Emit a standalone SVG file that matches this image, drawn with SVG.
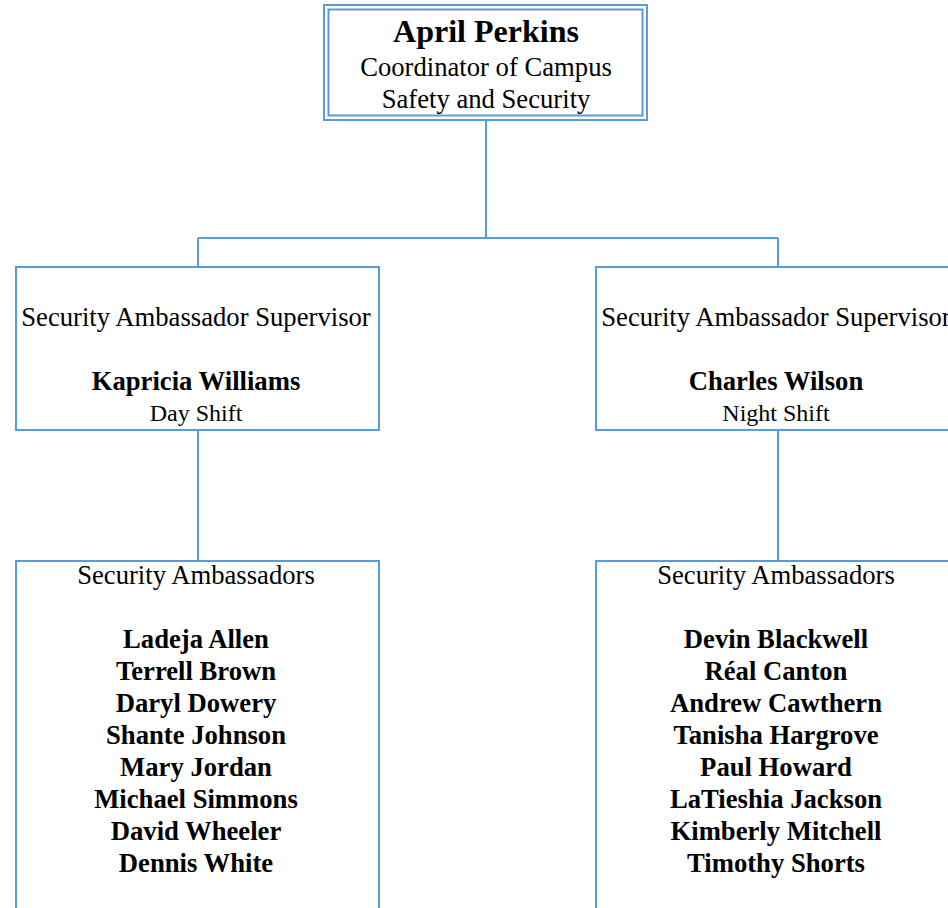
<svg xmlns="http://www.w3.org/2000/svg" width="948" height="908" viewBox="0 0 948 908">
<style>
.box{fill:#fff;stroke:#5B9BD5;stroke-width:2}
.conn{fill:none;stroke:#5B9BD5;stroke-width:2}
text{font-family:"Liberation Serif","Times New Roman",serif;fill:#000;text-anchor:middle}
.b{font-weight:bold;font-size:26.67px}
.r{font-size:26.67px}
.s{font-size:24px}
</style>
<rect width="948" height="908" fill="#fff"/>
<g id="connectors">
<path class="conn" d="M486 121V238M198 238H778M198 238V267M778 238V267M198 430V561M778 430V561"/>
</g>
<g id="april">
<rect class="box" x="324" y="5" width="323" height="115"/>
<rect class="box" x="328.5" y="9.5" width="314" height="106"/>
<text class="b" x="486" y="42" style="font-size:32px">April Perkins</text>
<text class="r" x="486" y="76">Coordinator of Campus</text>
<text class="r" x="486" y="108">Safety and Security</text>
</g>
<g id="kapricia">
<rect class="box" x="16" y="267" width="363" height="163"/>
<text class="r" x="196" y="326">Security Ambassador Supervisor</text>
<text class="b" x="196" y="390">Kapricia Williams</text>
<text class="s" x="196" y="421">Day Shift</text>
</g>
<g id="charles">
<rect class="box" x="596" y="267" width="363" height="163"/>
<text class="r" x="776" y="326">Security Ambassador Supervisor</text>
<text class="b" x="776" y="390">Charles Wilson</text>
<text class="s" x="776" y="421">Night Shift</text>
</g>
<g id="day-ambassadors">
<rect class="box" x="16" y="561" width="363" height="360"/>
<text class="r" x="196" y="584">Security Ambassadors</text>
<text class="b" x="196" y="648">Ladeja Allen</text>
<text class="b" x="196" y="680">Terrell Brown</text>
<text class="b" x="196" y="712">Daryl Dowery</text>
<text class="b" x="196" y="744">Shante Johnson</text>
<text class="b" x="196" y="776">Mary Jordan</text>
<text class="b" x="196" y="808">Michael Simmons</text>
<text class="b" x="196" y="840">David Wheeler</text>
<text class="b" x="196" y="872">Dennis White</text>
</g>
<g id="night-ambassadors">
<rect class="box" x="596" y="561" width="363" height="360"/>
<text class="r" x="776" y="584">Security Ambassadors</text>
<text class="b" x="776" y="648">Devin Blackwell</text>
<text class="b" x="776" y="680">Réal Canton</text>
<text class="b" x="776" y="712">Andrew Cawthern</text>
<text class="b" x="776" y="744">Tanisha Hargrove</text>
<text class="b" x="776" y="776">Paul Howard</text>
<text class="b" x="776" y="808">LaTieshia Jackson</text>
<text class="b" x="776" y="840">Kimberly Mitchell</text>
<text class="b" x="776" y="872">Timothy Shorts</text>
</g>
</svg>
